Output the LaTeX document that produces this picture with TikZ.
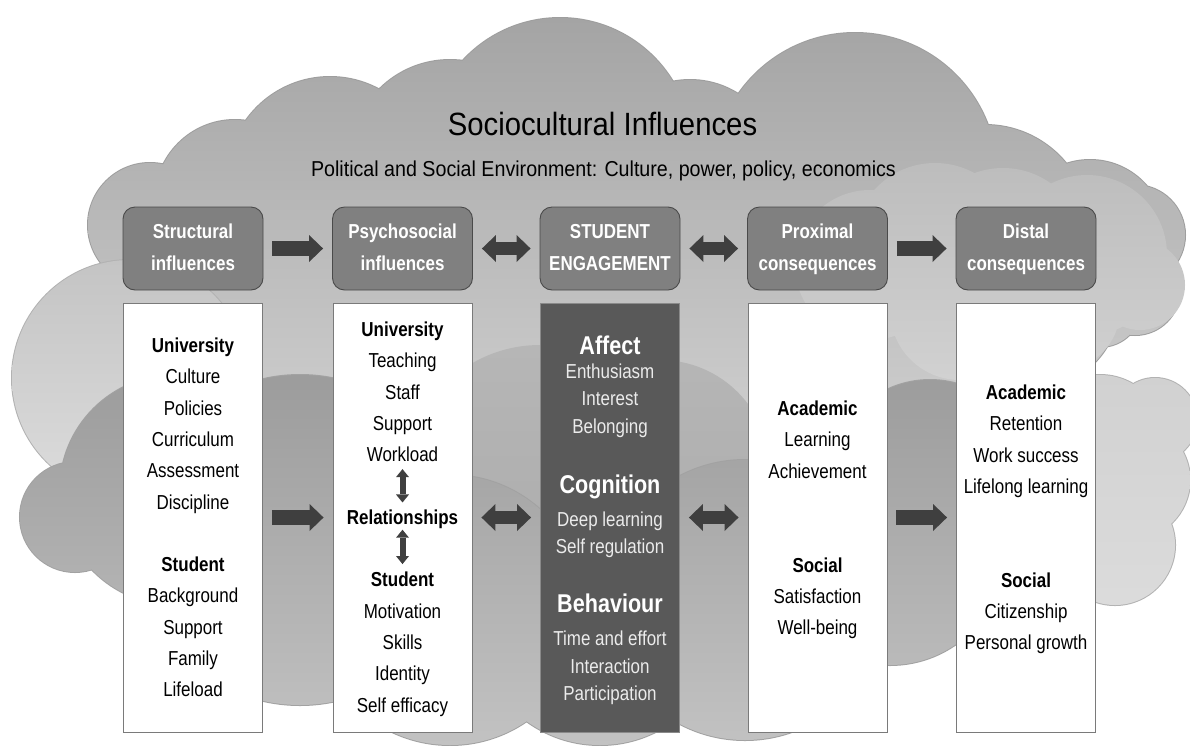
\documentclass[tikz,border=0pt]{standalone}
\usepackage{fontspec}
\setmainfont{Liberation Sans}[FakeStretch=0.84]
\newfontfamily\titlefont{Liberation Sans}[FakeStretch=0.91]
\usetikzlibrary{arrows.meta}
\definecolor{hdrfill}{HTML}{808080}
\definecolor{hdrline}{HTML}{4A4A4A}
\definecolor{boxline}{HTML}{7A7A7A}
\definecolor{engfill}{HTML}{595959}
\definecolor{engline}{HTML}{8A8A8A}
\definecolor{arrcol}{HTML}{3F3F3F}
\definecolor{cloudAtop}{HTML}{A4A4A4}
\definecolor{cloudAbot}{HTML}{D2D2D2}
\definecolor{cloudAline}{HTML}{9E9E9E}
\definecolor{cloudLtop}{HTML}{C4C4C4}
\definecolor{cloudLbot}{HTML}{DCDCDC}
\definecolor{cloudLline}{HTML}{B2B2B2}
\definecolor{cloudMtop}{HTML}{B6B6B6}
\definecolor{cloudMbot}{HTML}{ABABAB}
\definecolor{cloudCtop}{HTML}{9C9C9C}
\definecolor{cloudCbot}{HTML}{C2C2C2}
\definecolor{cloudCline}{HTML}{A2A2A2}
\newcommand\hdrtext[2]{\rule{0pt}{17pt}#1\\#2\vphantom{q}}
\begin{document}
\begin{tikzpicture}[x=1pt,y=-1pt,
  hdr/.style={draw=hdrline, line width=0.9pt, fill=hdrfill, rounded corners=12pt,
    minimum width=140pt, minimum height=83pt, inner sep=0pt, align=center,
    text=white, font=\bfseries\fontsize{20.2}{32}\selectfont},
  wbox/.style={draw=boxline, line width=0.9pt, fill=white, minimum width=139pt,
    minimum height=429pt, inner sep=0pt},
  dbox/.style={wbox, fill=engfill, draw=engline},
  body/.style={inner sep=0pt, anchor=base, font=\fontsize{20.2}{24}\selectfont},
  ebody/.style={body, text=white!92!black},
  ehead/.style={inner sep=0pt, anchor=base, text=white, font=\bfseries\fontsize{25.7}{30}\selectfont},
  bigarr/.style={line width=15pt, draw=arrcol, shorten <=9pt, shorten >=9pt,
    -{Triangle[length=14pt,width=27pt,line width=0pt]}},
  bigdarr/.style={line width=13pt, draw=arrcol, shorten <=9pt, shorten >=9pt,
    {Triangle[length=14pt,width=27pt,line width=0pt]}-{Triangle[length=14pt,width=27pt,line width=0pt]}},
  vdarr/.style={line width=6pt, draw=arrcol,
    {Triangle[length=8pt,width=13pt,line width=0pt]}-{Triangle[length=8pt,width=13pt,line width=0pt]}}
]
\useasboundingbox (0,0) rectangle (1190,745);
\fill[white] (0,0) rectangle (1190,745);

% ---------- background clouds ----------
\begin{scope}
\clip (0,0) rectangle (1190,745);
% back cloud
\def\cloudA{150/225/62, 235/200/80, 330/180/103, 450/160/100, 560/150/132, 690/170/90,
  855/175/142, 985/230/105, 1090/235/75, 1135/235/50, 1135/290/45, 1100/305/42,
  210/330/110, 400/320/140, 640/320/150, 860/320/140, 1030/300/90}
\draw[cloudAline, line width=2pt] \foreach \a/\b/\r in \cloudA {(\a,\b) circle[radius=\r pt]};
\shade[top color=cloudAtop, bottom color=cloudAbot] \foreach \a/\b/\r in \cloudA {(\a,\b) circle[radius=\r pt]};
% upper-right lighter cloud
\def\cloudR{870/265/75, 935/245/82, 1003/250/82, 1087/255/80, 1140/285/45, 960/310/70, 1060/310/60}
\shade[top color=black!26, bottom color=black!18] \foreach \a/\b/\r in \cloudR {(\a,\b) circle[radius=\r pt]};
% left light cloud
\draw[cloudLline, line width=2pt] (130,378) circle[radius=118pt];
\shade[top color=cloudLtop, bottom color=cloudLbot] (130,378) circle[radius=118pt];
% right light cloud
\def\cloudB{1100/440/65, 1155/420/42, 1130/480/60, 1115/545/60}
\draw[cloudLline, line width=2pt] \foreach \a/\b/\r in \cloudB {(\a,\b) circle[radius=\r pt]};
\shade[top color=black!18, bottom color=black!14] \foreach \a/\b/\r in \cloudB {(\a,\b) circle[radius=\r pt]};
% middle medium cloud
\def\cloudM{540/480/135, 660/470/110}
\shade[top color=cloudMtop, bottom color=cloudMbot] \foreach \a/\b/\r in \cloudM {(\a,\b) circle[radius=\r pt]};
% lower darker cloud
\def\cloudC{75/517/55, 175/490/115, 300/540/165, 450/610/135, 600/620/125, 745/600/140,
  890/550/115, 930/480/100}
\draw[cloudCline, line width=2pt] \foreach \a/\b/\r in \cloudC {(\a,\b) circle[radius=\r pt]};
\shade[top color=cloudCtop, bottom color=cloudCbot] \foreach \a/\b/\r in \cloudC {(\a,\b) circle[radius=\r pt]};
\end{scope}

% ---------- titles ----------
\node[inner sep=0pt, anchor=base, font=\titlefont\fontsize{32.2}{38}\selectfont] (title) at (602.5,135) {Sociocultural Influences};
\node[inner sep=0pt, anchor=base, font=\titlefont\fontsize{21.6}{26}\selectfont] (subtitle) at (603.5,176) {Political and Social Environment: Culture, power, policy, economics};

% ---------- header boxes ----------
\node[hdr] (h1) at (193,248.5) {\hdrtext{Structural}{influences}};
\node[hdr] (h2) at (402.5,248.5) {\hdrtext{Psychosocial}{influences}};
\node[hdr] (h3) at (610,248.5) {\hdrtext{STUDENT}{ENGAGEMENT}};
\node[hdr] (h4) at (817.5,248.5) {\hdrtext{Proximal}{consequences}};
\node[hdr] (h5) at (1026,248.5) {\hdrtext{Distal}{consequences}};

% ---------- content boxes ----------
\node[wbox] (b1) at (193,517.5) {};
\node[wbox] (b2) at (402.5,517.5) {};
\node[dbox] (b3) at (610,517.5) {};
\node[wbox] (b4) at (817.5,517.5) {};
\node[wbox] (b5) at (1026,517.5) {};

% ---------- column texts ----------
\foreach \i/\t in {0/{\bfseries University},1/Culture,2/Policies,3/Curriculum,4/Assessment,5/Discipline,
  7/{\bfseries Student},8/Background,9/Support,10/Family,11/Lifeload}
  \node[body] (sa-\i) at (193,{352.5+31.3*\i}) {\t};
\foreach \i/\t in {0/{\bfseries University},1/Teaching,2/Staff,3/Support,4/Workload,6/{\bfseries Relationships},
  8/{\bfseries Student},9/Motivation,10/Skills,11/Identity,12/Self efficacy}
  \node[body] (sb-\i) at (402.5,{336.5+31.3*\i}) {\t};
\foreach \i/\t in {0/{\bfseries Academic},1/Learning,2/Achievement,5/{\bfseries Social},6/Satisfaction,7/Well-being}
  \node[body] (sd-\i) at (817.5,{415.5+31.3*\i}) {\t};
\foreach \i/\t in {0/{\bfseries Academic},1/Retention,2/Work success,3/Lifelong learning,
  6/{\bfseries Social},7/Citizenship,8/Personal growth}
  \node[body] (se-\i) at (1026,{399.5+31.3*\i}) {\t};

% engagement column
\node[ehead] (aff) at (610,354) {Affect};
\node[ebody] (aff1) at (610,378.5) {Enthusiasm};
\node[ebody] (aff2) at (610,405.5) {Interest};
\node[ebody] (aff3) at (610,433) {Belonging};
\node[ehead] (cog) at (610,493) {Cognition};
\node[ebody] (cog1) at (610,526.5) {Deep learning};
\node[ebody] (cog2) at (610,553.5) {Self regulation};
\node[ehead] (beh) at (610,612) {Behaviour};
\node[ebody] (beh1) at (610,645.5) {Time and effort};
\node[ebody] (beh2) at (610,673.5) {Interaction};
\node[ebody] (beh3) at (610,700.5) {Participation};

% ---------- arrows ----------
\draw[bigarr] (h1.east) -- (h2.west);
\draw[bigdarr] (h2.east) -- (h3.west);
\draw[bigdarr] (h3.east) -- (h4.west);
\draw[bigarr] (h4.east) -- (h5.west);
\draw[bigarr] (b1.east) -- (b2.west);
\draw[bigdarr] (b2.east) -- (b3.west);
\draw[bigdarr] (b3.east) -- (b4.west);
\draw[bigarr] (b4.east) -- (b5.west);
\draw[vdarr, shorten <=7pt, shorten >=7pt] (sb-4.south) -- (sb-6.north);
\draw[vdarr, shorten <=1pt, shorten >=8pt] (sb-6.south) -- (sb-8.north);
\end{tikzpicture}
\end{document}
